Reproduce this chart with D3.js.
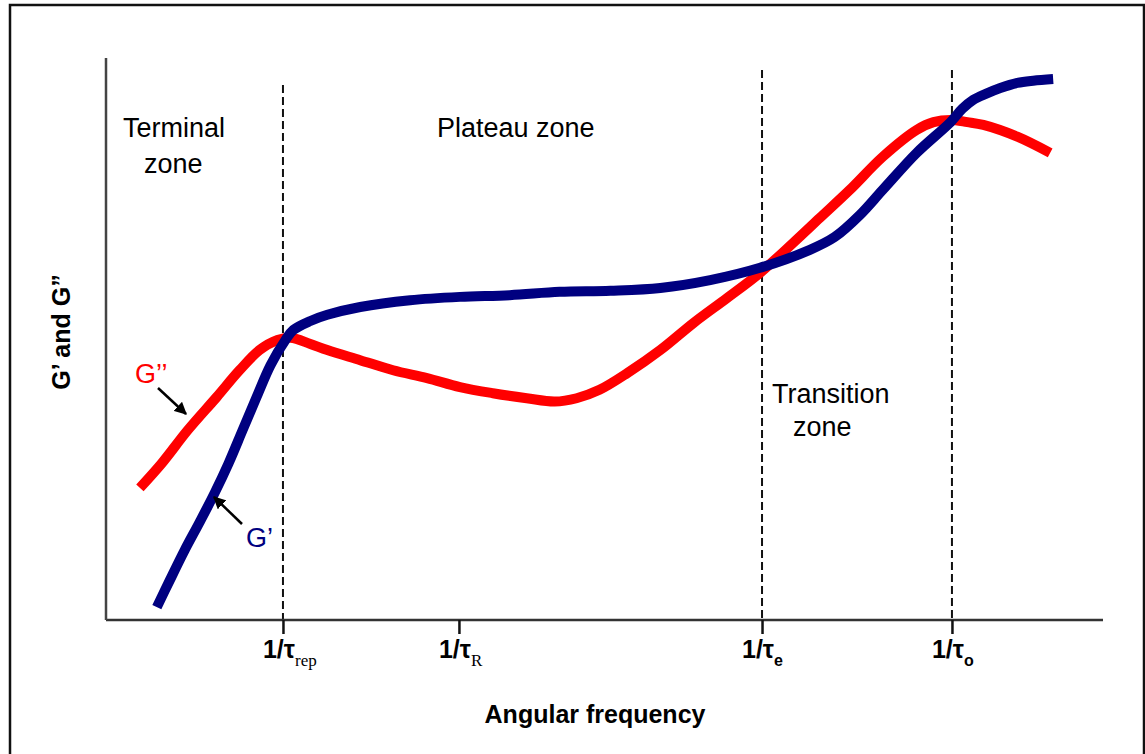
<!DOCTYPE html>
<html>
<head>
<meta charset="utf-8">
<script src="https://cdn.jsdelivr.net/npm/d3@7"></script>
<style>
  html, body { margin: 0; padding: 0; background: #fff; }
  svg { display: block; }
</style>
</head>
<body>
<svg id="chart" width="1145" height="754"></svg>
<script>
// ---- data (arbitrary units: x = log angular frequency 0..100, y = log modulus 0..100) ----
const gPrimeX  = [5.1, 6.4, 7.9, 9.4, 10.9, 12.3, 13.7, 15.1, 16.5, 18.0, 18.8, 20.5, 22.2, 25.5, 30.5, 35.5, 40.5, 45.5, 50.6, 55.6, 60.6, 65.6, 70.6, 73.1, 75.6, 77.9, 81.3, 84.7, 85.9, 87.0, 88.3, 89.7, 91.4, 93.0, 95.0];
const gPrimeY  = [2.3, 7.1, 12.5, 17.5, 22.7, 28.0, 33.9, 39.8, 45.5, 50.0, 51.8, 53.4, 54.5, 55.9, 57.1, 57.7, 58.0, 58.6, 58.8, 59.3, 60.7, 62.9, 66.1, 68.4, 72.3, 76.8, 83.4, 88.9, 91.3, 92.9, 94.0, 95.0, 95.9, 96.3, 96.6];
const gDoubleX = [3.4, 5.6, 8.2, 11.1, 13.4, 15.4, 17.2, 18.5, 20.5, 22.2, 25.5, 28.8, 32.2, 35.5, 38.8, 42.2, 45.0, 47.2, 49.5, 52.3, 55.6, 58.9, 62.3, 65.6, 68.9, 71.6, 74.6, 77.9, 81.3, 83.0, 84.7, 86.4, 88.0, 91.4, 94.7];
const gDoubleY = [23.6, 28.0, 33.9, 39.8, 44.6, 48.2, 50.0, 50.4, 49.3, 48.2, 46.4, 44.6, 43.2, 41.6, 40.5, 39.6, 39.0, 39.6, 41.1, 44.1, 48.2, 53.0, 57.5, 62.0, 67.3, 71.8, 76.8, 82.7, 87.5, 88.9, 89.3, 88.9, 88.4, 86.3, 83.4];
const tickValues = [17.75, 35.4, 65.8, 84.85];
const tickSubs   = ["rep", "R", "e", "o"];
const tickSerif  = [true, true, false, false];
const dashedAt   = [17.75, 65.8, 84.85];
const xTitle = "Angular frequency";
const yTitle = "G\u2019 and G\u201D";

// ---- layout ----
const svg = d3.select("#chart");
const x = d3.scaleLinear().domain([0, 100]).range([106, 1103]);
const y = d3.scaleLinear().domain([0, 100]).range([620, 60]);

// outer frame
svg.append("rect").attr("x", 10).attr("y", 5).attr("width", 1134).attr("height", 800)
  .attr("fill", "none").attr("stroke", "#111").attr("stroke-width", 2.5);

// dashed verticals
svg.selectAll(".dash").data(dashedAt).join("line")
  .attr("x1", d => x(d)).attr("x2", d => x(d))
  .attr("y1", (d, i) => i === 0 ? 85 : 70).attr("y2", 620)
  .attr("stroke", "#111").attr("stroke-width", 2).attr("stroke-dasharray", "8,4");

// axes
const xAxis = d3.axisBottom(x).tickValues(tickValues).tickSize(14).tickFormat("");
const gx = svg.append("g").attr("transform", "translate(0,620)").call(xAxis);
gx.select(".domain").attr("d", `M${x(0)},0H${x(100)}`).attr("stroke", "#333").attr("stroke-width", 2.5);
gx.selectAll(".tick line").attr("stroke", "#111").attr("stroke-width", 2.5);

const yAxis = d3.axisLeft(y).tickValues([]).tickSizeOuter(0);
const gy = svg.append("g").attr("transform", "translate(106,0)").call(yAxis);
gy.select(".domain").attr("d", "M0,620V58").attr("stroke", "#444").attr("stroke-width", 2.5);

// tick labels (1/τ with subscripts)
tickValues.forEach((v, i) => {
  const t = svg.append("text")
    .attr("x", x(v) - 20).attr("y", 658)
    .attr("font-family", "Liberation Sans, Arial, sans-serif")
    .attr("font-weight", "bold").attr("font-size", 25).attr("fill", "#000");
  t.append("tspan").text("1/\u03C4");
  t.append("tspan").attr("dy", 8)
    .attr("font-size", tickSerif[i] ? 17 : 16)
    .attr("font-family", tickSerif[i] ? "Liberation Serif, Times New Roman, serif" : "Liberation Sans, Arial, sans-serif")
    .attr("font-weight", tickSerif[i] ? "normal" : "bold")
    .text(tickSubs[i]);
});

// axis titles
svg.append("text").attr("x", 595).attr("y", 723).attr("text-anchor", "middle")
  .attr("font-family", "Liberation Sans, Arial, sans-serif").attr("font-weight", "bold")
  .attr("font-size", 25).text(xTitle);
svg.append("text").attr("transform", "translate(70,332) rotate(-90)").attr("text-anchor", "middle")
  .attr("font-family", "Liberation Sans, Arial, sans-serif").attr("font-weight", "bold")
  .attr("font-size", 25).text(yTitle);

// curves
const line = d3.line().x(d => x(d[0])).y(d => y(d[1])).curve(d3.curveCatmullRom.alpha(0.5));
const gDouble = gDoubleX.map((v, i) => [v, gDoubleY[i]]);
const gPrime = gPrimeX.map((v, i) => [v, gPrimeY[i]]);
svg.append("path").datum(gDouble).attr("d", line)
  .attr("fill", "none").attr("stroke", "#ff0000").attr("stroke-width", 10);
svg.append("path").datum(gPrime).attr("d", line)
  .attr("fill", "none").attr("stroke", "#000080").attr("stroke-width", 10);

// zone labels
const zoneFont = "Liberation Sans, Arial, sans-serif";
function label(lines, px, py, dy, anchorX) {
  const t = svg.append("text").attr("font-family", zoneFont).attr("font-size", 27).attr("fill", "#000");
  lines.forEach((s, i) => t.append("tspan").attr("x", px + (anchorX ? anchorX[i] : 0)).attr("y", py + i * dy).text(s));
}
label(["Terminal", "zone"], 123, 137, 36, [0, 21]);
label(["Plateau zone"], 437, 137, 0);
label(["Transition", "zone"], 772, 403, 33, [0, 21]);

// arrow marker
const defs = svg.append("defs");
defs.append("marker").attr("id", "ah").attr("viewBox", "0 0 10 10").attr("refX", 9).attr("refY", 5)
  .attr("markerWidth", 5).attr("markerHeight", 5).attr("orient", "auto")
  .append("path").attr("d", "M0,0L10,5L0,10z").attr("fill", "#000");

svg.append("text").attr("x", 135).attr("y", 383).attr("font-family", zoneFont)
  .attr("font-size", 27).attr("fill", "#ff0000").text("G\u2019\u2019");
svg.append("line").attr("x1", 158).attr("y1", 388).attr("x2", 186).attr("y2", 414)
  .attr("stroke", "#000").attr("stroke-width", 2.5).attr("marker-end", "url(#ah)");

svg.append("text").attr("x", 246).attr("y", 547).attr("font-family", zoneFont)
  .attr("font-size", 27).attr("fill", "#000080").text("G\u2019");
svg.append("line").attr("x1", 242).attr("y1", 524).attr("x2", 214).attr("y2", 497)
  .attr("stroke", "#000").attr("stroke-width", 2.5).attr("marker-end", "url(#ah)");
</script>
</body>
</html>
